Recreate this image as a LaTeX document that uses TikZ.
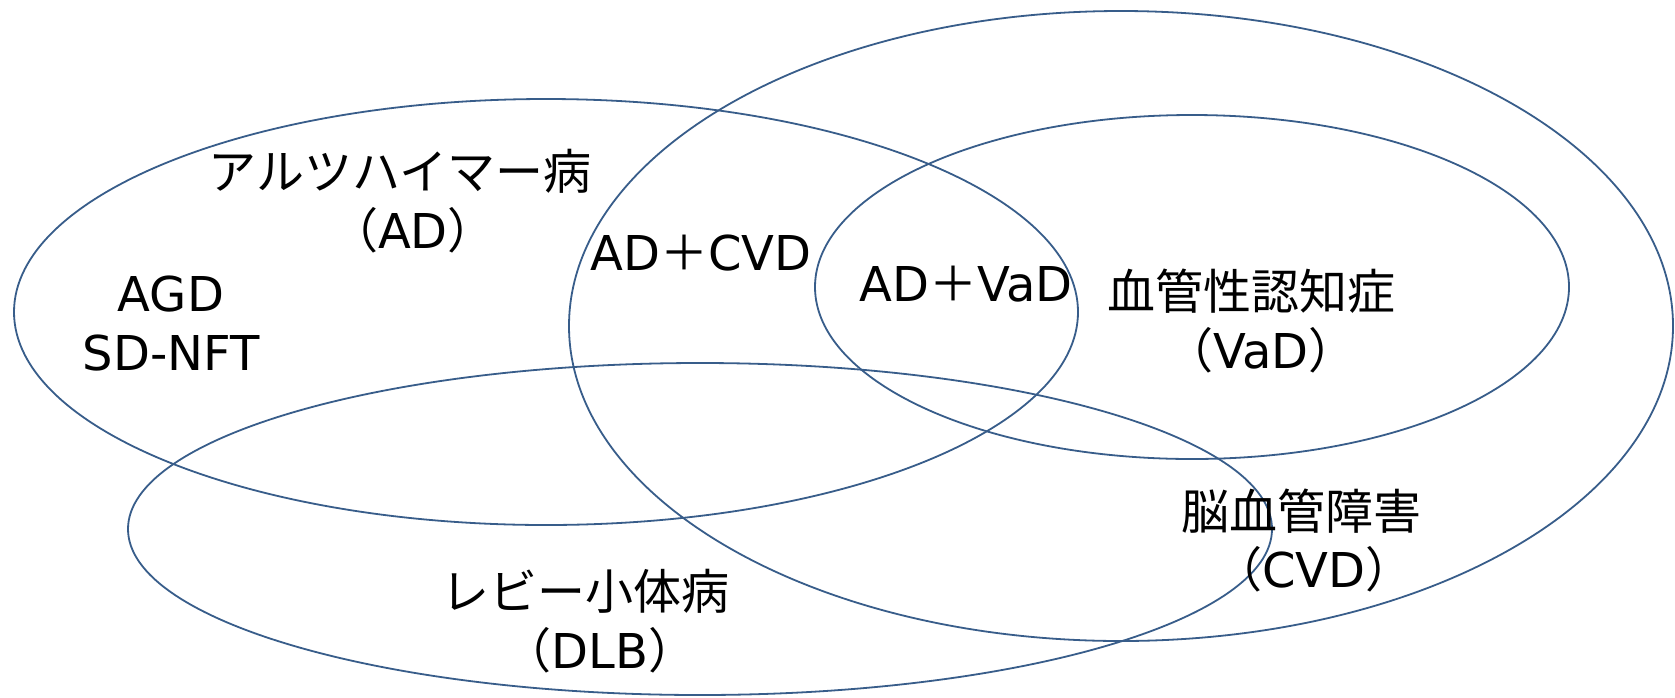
\documentclass[tikz,border=0pt]{standalone}
\usepackage{fontspec}
\setmainfont{DejaVu Sans}
\newfontfamily\jp{Noto Sans CJK JP}
\definecolor{vline}{RGB}{56,93,138}
\begin{document}
\begin{tikzpicture}[x=1pt,y=-1pt,
  ring/.style={draw=vline,line width=1.8pt},
  lbl/.style={inner sep=0pt,font=\fontsize{48}{58}\selectfont}]
\useasboundingbox (0,0) rectangle (1675,697);
\fill[white] (0,0) rectangle (1675,697);
% ellipses
\draw[ring] (546,312) ellipse [x radius=532pt, y radius=213pt];
\draw[ring] (1121,326) ellipse [x radius=552pt, y radius=315pt];
\draw[ring] (1192,287) ellipse [x radius=377pt, y radius=172pt];
\draw[ring] (700,529) ellipse [x radius=572pt, y radius=166pt];
% labels
\node[lbl] (ad1) at (400,171) {\jp アルツハイマー病};
\node[lbl] (ad2) at (413,230) {\jp （\rmfamily AD\jp ）};
\node[lbl] (agd) at (171,294) {AGD};
\node[lbl] (sdn) at (171,353) {SD-NFT};
\node[lbl] (adcvd) at (701,253) {AD{\jp ＋}CVD};
\node[lbl] (advad) at (966,284) {AD{\jp ＋}VaD};
\node[lbl] (vad1) at (1251,291) {\jp 血管性認知症};
\node[lbl] (vad2) at (1261,350) {\jp （\rmfamily VaD\jp ）};
\node[lbl] (cvd1) at (1301,511) {\jp 脳血管障害};
\node[lbl] (cvd2) at (1314,569) {\jp （\rmfamily CVD\jp ）};
\node[lbl] (dlb1) at (585,591) {\jp レビー小体病};
\node[lbl] (dlb2) at (600,650) {\jp （\rmfamily DLB\jp ）};
\end{tikzpicture}
\end{document}
